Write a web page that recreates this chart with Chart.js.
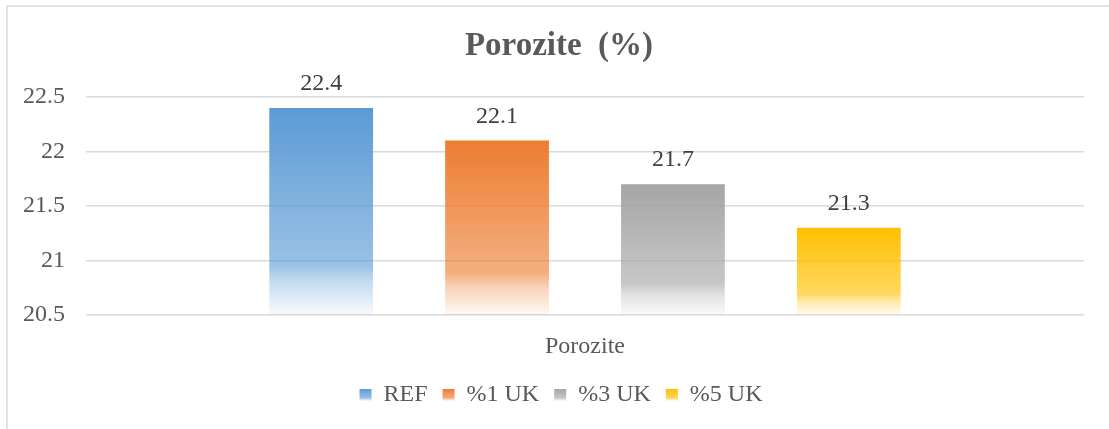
<!DOCTYPE html>
<html>
<head>
<meta charset="utf-8">
<script src="https://cdn.jsdelivr.net/npm/chart.js@4/dist/chart.umd.min.js"></script>
<style>
  html, body { margin: 0; padding: 0; background: #ffffff; }
  #wrap { position: relative; width: 1109px; height: 429px; }
</style>
</head>
<body>
<div id="wrap"><canvas id="c" width="1109" height="429"></canvas></div>
<script>
const chartTitle = 'Porozite  (%)';
const categories = ['Porozite'];
const seriesNames = ['REF', '%1 UK', '%3 UK', '%5 UK'];
const refValues = [22.4];
const uk1Values = [22.1];
const uk3Values = [21.7];
const uk5Values = [21.3];
const seriesColors = ['#5B9BD5', '#ED7D31', '#A5A5A5', '#FFC000'];
const yTickValues = [20.5, 21, 21.5, 22, 22.5];
const yTickLabels = ['20.5', '21', '21.5', '22', '22.5'];

const FONT = '"Liberation Serif", "Times New Roman", serif';

function hexToRgb(h) {
  const n = parseInt(h.slice(1), 16);
  return [(n >> 16) & 255, (n >> 8) & 255, n & 255];
}
function rgba(h, a) {
  const [r, g, b] = hexToRgb(h);
  return `rgba(${r},${g},${b},${a})`;
}
function makeGradient(ctx2d, color, y0, y1) {
  const g = ctx2d.createLinearGradient(0, y0, 0, y1);
  g.addColorStop(0, rgba(color, 1));
  g.addColorStop(0.76, rgba(color, 0.62));
  g.addColorStop(0.84, rgba(color, 0.35));
  g.addColorStop(1, rgba(color, 0.04));
  return g;
}
function barFill(color) {
  return function (context) {
    const chart = context.chart;
    const area = chart.chartArea;
    if (!area || context.type !== 'data' || !chart.scales.y) return color;
    const top = chart.scales.y.getPixelForValue(context.raw);
    return makeGradient(chart.ctx, color, top, area.bottom);
  };
}

const valueArrays = [refValues, uk1Values, uk3Values, uk5Values];
const datasets = seriesNames.map((name, i) => ({
  label: name,
  data: valueArrays[i],
  backgroundColor: barFill(seriesColors[i]),
  borderWidth: 0,
  categoryPercentage: 0.705,
  barPercentage: 0.59
}));

const frame = {
  id: 'frame',
  beforeDraw(chart) {
    const c = chart.ctx;
    c.save();
    c.fillStyle = '#ffffff';
    c.fillRect(0, 0, chart.width, chart.height);
    c.strokeStyle = '#D9D9D9';
    c.lineWidth = 1.5;
    c.beginPath();
    c.moveTo(7, chart.height);
    c.lineTo(7, 6);
    c.lineTo(chart.width, 6);
    c.stroke();
    c.restore();
  }
};

// shift the title and legend centres to where the original places them
const blockShift = {
  id: 'blockShift',
  afterLayout(chart) {
    if (chart.titleBlock) chart.titleBlock.left = 34;
    if (chart.legend) chart.legend.left = 38;
  }
};

const dataLabels = {
  id: 'dataLabels',
  afterDatasetsDraw(chart) {
    const c = chart.ctx;
    c.save();
    c.font = '24px ' + FONT;
    c.fillStyle = '#404040';
    c.textAlign = 'center';
    c.textBaseline = 'middle';
    chart.data.datasets.forEach((ds, di) => {
      const meta = chart.getDatasetMeta(di);
      meta.data.forEach((el, j) => {
        c.fillText(String(ds.data[j]), el.x, el.y - 24);
      });
    });
    c.restore();
  }
};

new Chart(document.getElementById('c'), {
  type: 'bar',
  data: { labels: categories, datasets },
  options: {
    responsive: false,
    animation: false,
    devicePixelRatio: 1,
    layout: { padding: { left: 0, right: 25, top: 0, bottom: 12 } },
    plugins: {
      title: {
        display: true,
        text: chartTitle,
        color: '#595959',
        font: { family: FONT, size: 33, weight: 'bold', lineHeight: 1.2 },
        padding: { top: 26.2, bottom: 31.2 }
      },
      legend: {
        position: 'bottom',
        labels: {
          color: '#595959',
          font: { family: FONT, size: 24 },
          boxWidth: 12,
          boxHeight: 12,
          padding: 15,
          generateLabels(chart) {
            const lg = chart.legend;
            const top = (lg && lg.top) ? lg.top : 363;
            const y0 = top + 15 + 6;
            return chart.data.datasets.map((ds, i) => ({
              text: ds.label,
              fillStyle: makeGradient(chart.ctx, seriesColors[i], y0, y0 + 12),
              strokeStyle: 'rgba(0,0,0,0)',
              lineWidth: 0,
              fontColor: '#595959',
              hidden: !chart.isDatasetVisible(i),
              datasetIndex: i
            }));
          }
        }
      },
      tooltip: { enabled: false }
    },
    scales: {
      x: {
        grid: { display: false, drawTicks: false },
        border: { display: false },
        ticks: { color: '#595959', font: { family: FONT, size: 24 }, padding: 17 },
        afterFit(scale) { scale.height = 53; }
      },
      y: {
        min: 20.5,
        max: 22.5,
        grid: { color: '#D9D9D9', lineWidth: 1.5, drawTicks: false },
        border: { display: false },
        afterBuildTicks(scale) {
          scale.ticks = yTickValues.map(v => ({ value: v }));
        },
        ticks: {
          color: '#595959',
          font: { family: FONT, size: 24 },
          padding: 21,
          callback(value) {
            const idx = yTickValues.indexOf(value);
            return idx >= 0 ? yTickLabels[idx] : '';
          }
        },
        afterFit(scale) { scale.width = 86; }
      }
    }
  },
  plugins: [frame, blockShift, dataLabels]
});
</script>
</body>
</html>
